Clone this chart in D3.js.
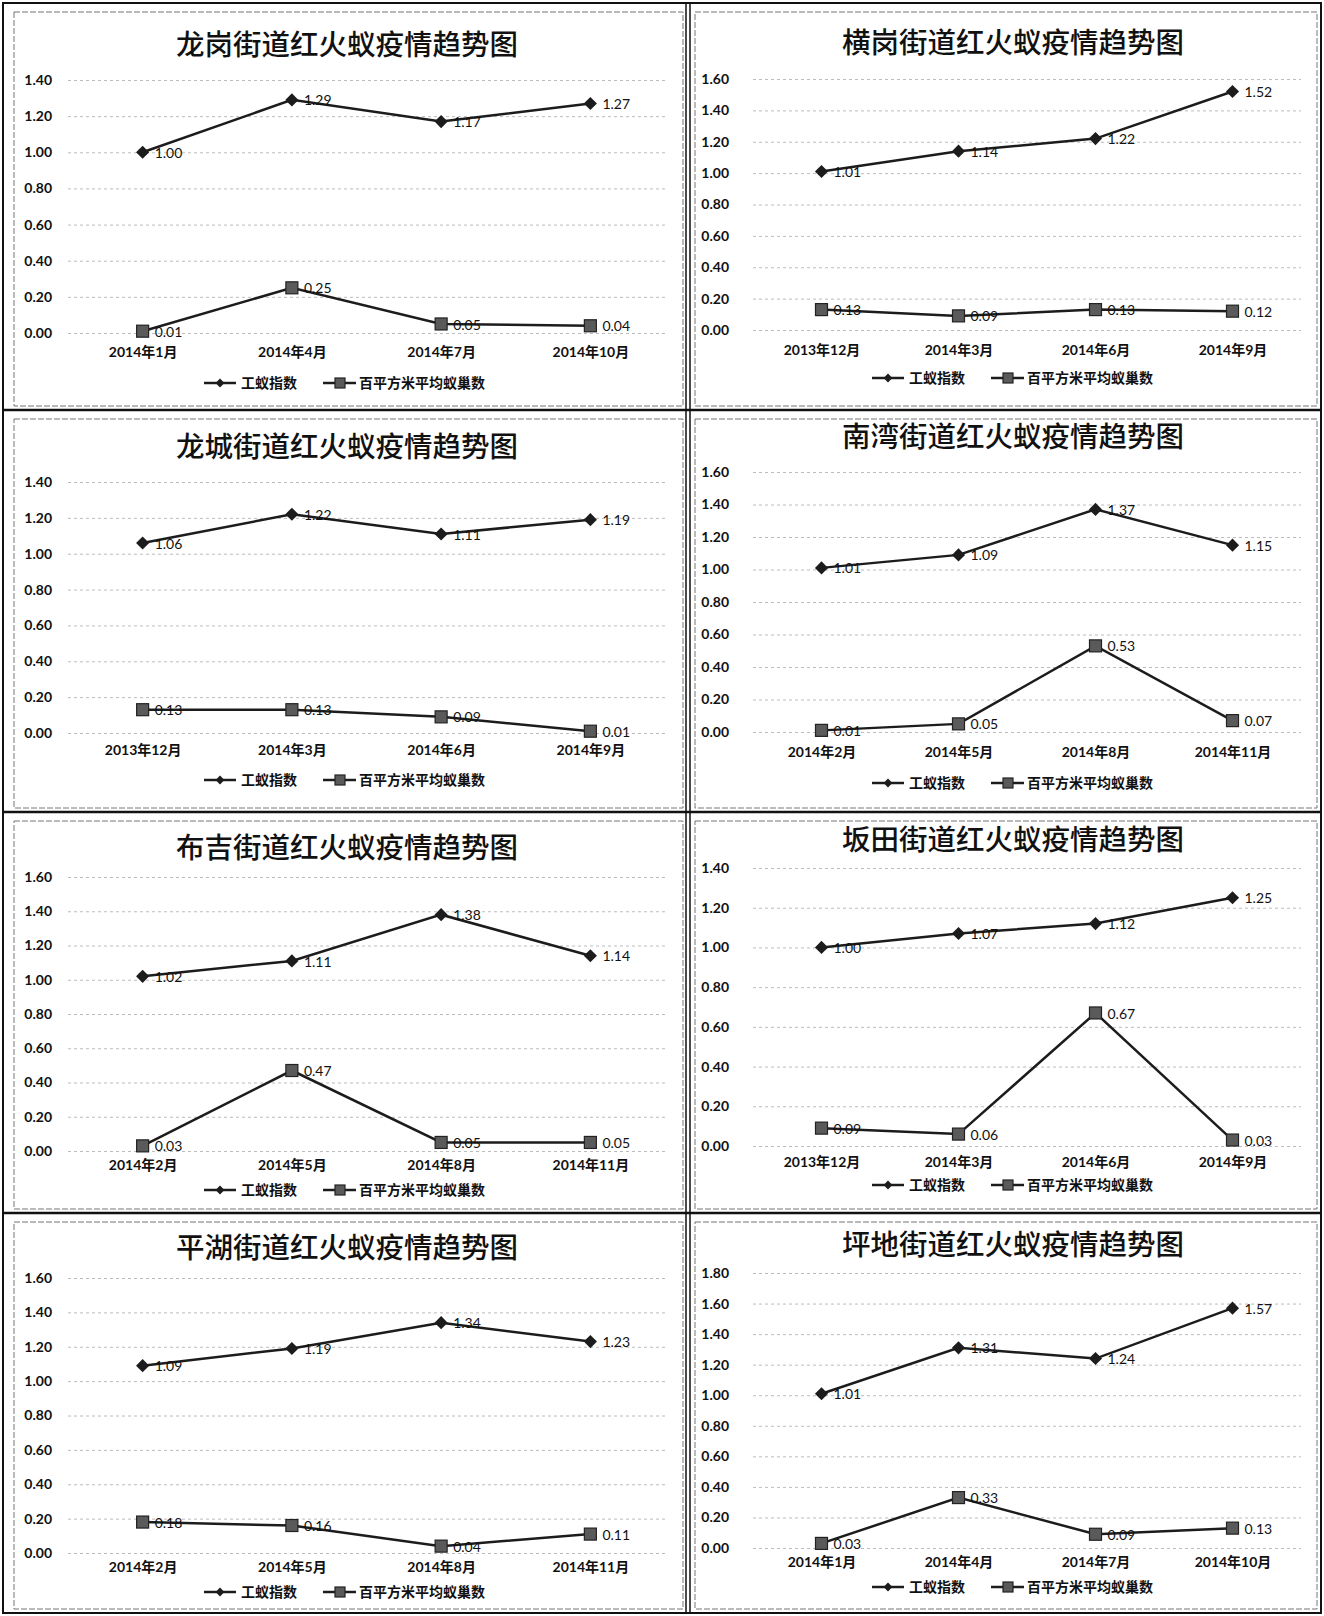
<!DOCTYPE html>
<html>
<head>
<meta charset="utf-8">
<script src="https://cdn.jsdelivr.net/npm/d3@7"></script>
<style>
  body { margin: 0; background: #fff; }
  text { font-family: Lato, "Noto Sans CJK SC", sans-serif; fill: #111; }
</style>
</head>
<body>
<svg id="chart"></svg>
<script>
// Chart data
const streets = ["龙岗", "横岗", "龙城", "南湾", "布吉", "坂田", "平湖", "坪地"];
const seriesNames = ["工蚁指数", "百平方米平均蚁巢数"];

const categories = [
  ["2014年1月", "2014年4月", "2014年7月", "2014年10月"],
  ["2013年12月", "2014年3月", "2014年6月", "2014年9月"],
  ["2013年12月", "2014年3月", "2014年6月", "2014年9月"],
  ["2014年2月", "2014年5月", "2014年8月", "2014年11月"],
  ["2014年2月", "2014年5月", "2014年8月", "2014年11月"],
  ["2013年12月", "2014年3月", "2014年6月", "2014年9月"],
  ["2014年2月", "2014年5月", "2014年8月", "2014年11月"],
  ["2014年1月", "2014年4月", "2014年7月", "2014年10月"]
];

// 工蚁指数
const workerIndex = [
  [1.00, 1.29, 1.17, 1.27],
  [1.01, 1.14, 1.22, 1.52],
  [1.06, 1.22, 1.11, 1.19],
  [1.01, 1.09, 1.37, 1.15],
  [1.02, 1.11, 1.38, 1.14],
  [1.00, 1.07, 1.12, 1.25],
  [1.09, 1.19, 1.34, 1.23],
  [1.01, 1.31, 1.24, 1.57]
];

// 百平方米平均蚁巢数
const nestDensity = [
  [0.01, 0.25, 0.05, 0.04],
  [0.13, 0.09, 0.13, 0.12],
  [0.13, 0.13, 0.09, 0.01],
  [0.01, 0.05, 0.53, 0.07],
  [0.03, 0.47, 0.05, 0.05],
  [0.09, 0.06, 0.67, 0.03],
  [0.18, 0.16, 0.04, 0.11],
  [0.03, 0.33, 0.09, 0.13]
];

const yMax = [1.4, 1.6, 1.4, 1.6, 1.6, 1.4, 1.6, 1.8];

// Page layout (pixel positions of each panel)
const width = 1324;
const height = 1616;
const rowEdges = [3, 410, 812, 1213, 1613];
const colDivider = 688;

// x range, title / legend centre and y-label padding per column
const colLayout = [
  { x0: 68, x1: 665, cx: 347, lx: 349, pad: 16, boxL: 14, boxR: 683 },
  { x0: 753, x1: 1301, cx: 1013, lx: 1017, pad: 24, boxL: 695, boxR: 1317 }
];

// vertical positions per panel: title, top tick, zero tick, x labels, legend
const panelY = [
  { title: 45, top: 80, zero: 333, xlab: 352, legend: 383 },
  { title: 43, top: 79, zero: 330, xlab: 350, legend: 378 },
  { title: 447, top: 482, zero: 733, xlab: 750, legend: 780 },
  { title: 437, top: 472, zero: 732, xlab: 752, legend: 783 },
  { title: 848, top: 877, zero: 1151, xlab: 1165, legend: 1190 },
  { title: 840, top: 868, zero: 1146, xlab: 1162, legend: 1185 },
  { title: 1248, top: 1278, zero: 1553, xlab: 1567, legend: 1592 },
  { title: 1245, top: 1273, zero: 1548, xlab: 1562, legend: 1587 }
];

const lineColor = "#1c1c1c";
const squareFill = "#5a5a5a";

const svg = d3.select("#chart")
  .attr("width", width)
  .attr("height", height);

svg.append("rect")
  .attr("width", width)
  .attr("height", height)
  .attr("fill", "#fff");

// Marker drawing helpers
function diamond(g, cx, cy, size) {
  g.append("path")
    .attr("d", d3.symbol().type(d3.symbolDiamond2).size(size)())
    .attr("transform", `translate(${cx},${cy})`)
    .attr("fill", lineColor);
}
function square(g, cx, cy, s) {
  g.append("rect")
    .attr("x", cx - s / 2)
    .attr("y", cy - s / 2)
    .attr("width", s)
    .attr("height", s)
    .attr("fill", squareFill)
    .attr("stroke", "#222")
    .attr("stroke-width", 1.2);
}

streets.forEach(function(name, i) {
  const col = colLayout[i % 2];
  const row = Math.floor(i / 2);
  const py = panelY[i];
  const g = svg.append("g");

  // inner chart border
  g.append("rect")
    .attr("x", col.boxL)
    .attr("y", rowEdges[row] + 9)
    .attr("width", col.boxR - col.boxL)
    .attr("height", rowEdges[row + 1] - rowEdges[row] - 13)
    .attr("fill", "none")
    .attr("stroke", "#777")
    .attr("stroke-width", 1)
    .attr("stroke-dasharray", "6,2");

  const x = d3.scalePoint()
    .domain(categories[i])
    .range([col.x0, col.x1])
    .padding(0.5);

  const y = d3.scaleLinear()
    .domain([0, yMax[i]])
    .range([py.zero, py.top]);

  const tickVals = d3.range(0, Math.round(yMax[i] / 0.2) + 1).map(k => k * 0.2);

  // y axis with gridlines
  const yAxis = g.append("g")
    .attr("transform", `translate(${col.x0},0)`)
    .call(d3.axisLeft(y)
      .tickValues(tickVals)
      .tickFormat(d3.format(".2f"))
      .tickSize(-(col.x1 - col.x0))
      .tickPadding(col.pad));
  yAxis.select(".domain").remove();
  yAxis.selectAll(".tick line")
    .attr("stroke", "#bcbcbc")
    .attr("stroke-dasharray", "3,3");
  yAxis.selectAll(".tick text")
    .style("font-size", "14px")
    .style("font-weight", "bold")
    .attr("fill", "#111");

  // x axis labels
  const xAxis = g.append("g")
    .attr("transform", `translate(0,${py.xlab})`)
    .call(d3.axisBottom(x).tickSize(0).tickPadding(0));
  xAxis.select(".domain").remove();
  xAxis.selectAll(".tick text")
    .attr("dy", "0.35em")
    .style("font-size", "14px")
    .style("font-weight", "bold")
    .attr("fill", "#111");

  // title
  g.append("text")
    .attr("x", col.cx)
    .attr("y", py.title)
    .attr("dy", "0.35em")
    .attr("text-anchor", "middle")
    .style("font-family", "'Noto Sans CJK SC', sans-serif")
    .style("font-size", "28.5px")
    .style("font-weight", "500")
    .text(name + "街道红火蚁疫情趋势图");

  const line = d3.line()
    .x((d, k) => x(categories[i][k]))
    .y(d => y(d));

  // 百平方米平均蚁巢数 series
  g.append("path")
    .datum(nestDensity[i])
    .attr("d", line)
    .attr("fill", "none")
    .attr("stroke", lineColor)
    .attr("stroke-width", 2.5);
  nestDensity[i].forEach(function(v, k) {
    square(g, x(categories[i][k]), y(v), 12);
  });

  // 工蚁指数 series
  g.append("path")
    .datum(workerIndex[i])
    .attr("d", line)
    .attr("fill", "none")
    .attr("stroke", lineColor)
    .attr("stroke-width", 2.5);
  workerIndex[i].forEach(function(v, k) {
    diamond(g, x(categories[i][k]), y(v), 110);
  });

  // data labels
  [workerIndex[i], nestDensity[i]].forEach(function(vals) {
    g.selectAll(null)
      .data(vals)
      .enter()
      .append("text")
      .attr("x", (d, k) => x(categories[i][k]) + 12)
      .attr("y", d => y(d))
      .attr("dy", "0.4em")
      .style("font-size", "14px")
      .text(d => d3.format(".2f")(d));
  });

  // legend
  const lg = g.append("g").attr("transform", `translate(${col.lx},${py.legend})`);
  lg.append("line")
    .attr("x1", -145).attr("x2", -113)
    .attr("stroke", lineColor).attr("stroke-width", 2.5);
  diamond(lg, -129, 0, 50);
  lg.append("text")
    .attr("x", -108)
    .attr("dy", "0.35em")
    .style("font-size", "14px")
    .style("font-weight", "bold")
    .text(seriesNames[0]);
  lg.append("line")
    .attr("x1", -26).attr("x2", 7)
    .attr("stroke", lineColor).attr("stroke-width", 2.5);
  square(lg, -9, 0, 10);
  lg.append("text")
    .attr("x", 10)
    .attr("dy", "0.35em")
    .style("font-size", "14px")
    .style("font-weight", "bold")
    .text(seriesNames[1]);
});

// table frame round the eight charts
svg.append("rect")
  .attr("x", 3).attr("y", 3)
  .attr("width", width - 6).attr("height", rowEdges[4] - 3)
  .attr("fill", "none")
  .attr("stroke", "#111")
  .attr("stroke-width", 2);

rowEdges.slice(1, 4).forEach(function(yy) {
  svg.append("line")
    .attr("x1", 3).attr("x2", width - 3)
    .attr("y1", yy).attr("y2", yy)
    .attr("stroke", "#111")
    .attr("stroke-width", 2.5);
});

[colDivider - 2, colDivider + 2].forEach(function(xx) {
  svg.append("line")
    .attr("x1", xx).attr("x2", xx)
    .attr("y1", 3).attr("y2", rowEdges[4])
    .attr("stroke", "#111")
    .attr("stroke-width", 1.5);
});
</script>
</body>
</html>
